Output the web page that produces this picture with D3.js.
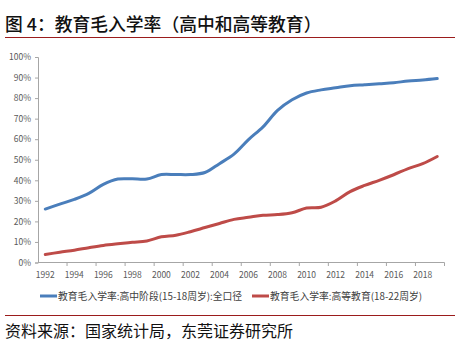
<!DOCTYPE html>
<html><head><meta charset="utf-8">
<script src="https://cdn.jsdelivr.net/npm/d3@7"></script>
<style>body{margin:0;background:#fff}svg{display:block}</style>
</head><body>
<svg id="c" width="461" height="347"></svg>
<script>
const years = d3.range(1992, 2020);
const highSchool = [26.0,28.4,30.7,33.6,38.0,40.6,40.7,40.6,42.8,42.8,42.8,43.8,48.1,52.7,59.8,66.0,74.0,79.2,82.5,84.0,85.0,86.0,86.5,87.0,87.5,88.3,88.8,89.5];
const higherEd = [3.9,5.0,6.0,7.2,8.3,9.1,9.8,10.5,12.5,13.3,15.0,17.0,19.0,21.0,22.0,23.0,23.3,24.2,26.5,26.9,30.0,34.5,37.5,40.0,42.7,45.7,48.1,51.6];
const yTicks = [0,10,20,30,40,50,60,70,80,90,100];
const xLabelYears = d3.range(1992, 2020, 2);
const seriesNames = ["教育毛入学率:高中阶段(15-18周岁):全口径", "教育毛入学率:高等教育(18-22周岁)"];
const colors = ["#4a7ebb", "#be4b48"];
const title = "图 4：教育毛入学率（高中和高等教育）";
const source = "资料来源：国家统计局，东莞证券研究所";

const svg = d3.select("#c");
const font = "'Noto Sans CJK SC', 'Noto Sans', sans-serif";

// title
svg.append("text").attr("x", 5).attr("y", 31).attr("font-family", font)
  .attr("font-size", 17.8).attr("font-weight", 500).attr("fill", "#111").text(title);
svg.append("line").attr("x1", 5).attr("x2", 455).attr("y1", 37.5).attr("y2", 37.5)
  .attr("stroke", "#9b1c1c").attr("stroke-width", 1.2);

const x = d3.scaleBand().domain(years).range([38, 444.5]);
const y = d3.scaleLinear().domain([0, 100]).range([262.5, 57]);

// y axis
const yAxis = svg.append("g").attr("transform", "translate(38,0)")
  .call(d3.axisLeft(y).tickValues(yTicks).tickSize(3).tickFormat(d => d + "%"));
yAxis.select(".domain").attr("stroke", "#a6a6a6");
yAxis.selectAll(".tick line").attr("stroke", "#a6a6a6");
yAxis.selectAll(".tick text").attr("font-family", font).attr("font-size", 8.5)
  .attr("fill", "#595959").attr("x", -7);

// x axis
const xg = svg.append("g");
xg.append("line").attr("x1", 38).attr("x2", 444.5).attr("y1", y(0)).attr("y2", y(0))
  .attr("stroke", "#a6a6a6");
const tickPos = xLabelYears.slice(1).map(v => x(v)).concat([x(2019) + x.bandwidth()]);
xg.selectAll(".xt").data(tickPos).join("line").attr("class", "xt")
  .attr("x1", d => d).attr("x2", d => d).attr("y1", y(0)).attr("y2", y(0) + 3.5)
  .attr("stroke", "#a6a6a6");
xg.selectAll(".xl").data(xLabelYears).join("text").attr("class", "xl")
  .attr("x", d => x(d) + x.bandwidth() / 2).attr("y", 278)
  .attr("text-anchor", "middle").attr("font-family", font).attr("font-size", 8.5)
  .attr("fill", "#595959").text(d => d);

// lines
const line = d3.line().x((d, i) => x(years[i]) + x.bandwidth() / 2).y(d => y(d))
  .curve(d3.curveCatmullRom.alpha(0.5));
[highSchool, higherEd].forEach((s, i) => {
  svg.append("path").attr("d", line(s)).attr("fill", "none")
    .attr("stroke", colors[i]).attr("stroke-width", 3).attr("stroke-linecap", "round");
});

// legend
const legendX = [40, 252];
seriesNames.forEach((n, i) => {
  svg.append("line").attr("x1", legendX[i]).attr("x2", legendX[i] + 17)
    .attr("y1", 296).attr("y2", 296).attr("stroke", colors[i]).attr("stroke-width", 3);
  svg.append("text").attr("x", legendX[i] + 18).attr("y", 299.5).attr("font-family", font)
    .attr("font-size", 9.8).attr("fill", "#404040").text(n);
});

// source
svg.append("line").attr("x1", 5).attr("x2", 455).attr("y1", 315.5).attr("y2", 315.5)
  .attr("stroke", "#9b1c1c").attr("stroke-width", 1.2);
svg.append("text").attr("x", 5).attr("y", 337).attr("font-family", font)
  .attr("font-size", 16).attr("fill", "#111").text(source);
</script>
</body></html>
